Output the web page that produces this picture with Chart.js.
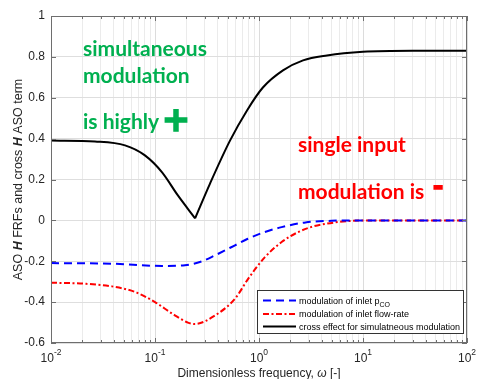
<!DOCTYPE html>
<html><head><meta charset="utf-8">
<script src="https://cdn.jsdelivr.net/npm/chart.js@4.4.1/dist/chart.umd.min.js"></script>
<style>html,body{margin:0;padding:0;background:#fff;}</style>
</head><body>
<canvas id="c" width="477" height="379"></canvas>
<script>
// ---- data ----
const blueOmega  = [0.01, 0.0386, 0.117, 0.194, 0.283, 0.378, 0.588, 0.78, 1.14, 1.65, 2.8, 5, 10, 100];
const blueValues = [-0.209, -0.212, -0.223, -0.22, -0.20, -0.171, -0.122, -0.09, -0.057, -0.033, -0.01, -0.002, 0, 0];

const redOmega  = [0.01, 0.0212, 0.0386, 0.064, 0.1, 0.146, 0.207, 0.24, 0.378, 0.588, 0.789, 1.14, 1.65, 2.39, 3.3, 4.5, 7, 15, 100];
const redValues = [-0.305, -0.31, -0.323, -0.35, -0.40, -0.456, -0.50, -0.507, -0.465, -0.383, -0.285, -0.18, -0.106, -0.057, -0.03, -0.016, -0.004, 0, 0];

const blackLeftOmega  = [0.01, 0.0265, 0.0515, 0.08, 0.117, 0.166, 0.243];
const blackLeftValues = [0.391, 0.386, 0.367, 0.318, 0.235, 0.122, 0.01];
const blackRightOmega  = [0.243, 0.338, 0.526, 0.767, 1.09, 1.70, 2.65, 4.5, 10, 30, 100];
const blackRightValues = [0.01, 0.18, 0.39, 0.538, 0.65, 0.734, 0.783, 0.807, 0.825, 0.83, 0.83];

const yTickValues = [-0.6, -0.4, -0.2, 0, 0.2, 0.4, 0.6, 0.8, 1];
const yTickLabels = ['-0.6', '-0.4', '-0.2', '0', '0.2', '0.4', '0.6', '0.8', '1'];
const xTickValues = [0.01, 0.1, 1, 10, 100];
const xTickExponents = ['-2', '-1', '0', '1', '2'];

const legendLabels = ['modulation of inlet p', 'modulation of inlet flow-rate', 'cross effect for simulatneous modulation'];
const legendSub = ['CO', '', ''];

// ---- helpers ----
const pts = (xs, ys) => xs.map((x, i) => ({x: x, y: ys[i]}));
const isPow10 = v => Math.abs(Math.log10(v) - Math.round(Math.log10(v))) < 1e-9;
const allXTicks = [];
for (let e = -2; e <= 1; e++) for (let m = 1; m <= 9; m++) allXTicks.push(m * Math.pow(10, e));
allXTicks.push(100);

const SANS = '"Liberation Sans", Arial, sans-serif';
const BLUE = '#0000FF', RED = '#FF0000', BLACK = '#000000';
const blueDash = [8, 5], redDash = [6, 2.5, 2, 2.5];
const AX = 12;

const decor = {
  id: 'decor',
  afterDraw(chart) {
    const ctx = chart.ctx, a = chart.chartArea;
    const xs = chart.scales.x, ys = chart.scales.y;
    ctx.save();
    // axes box
    ctx.strokeStyle = '#6e6e6e'; ctx.lineWidth = 1; ctx.setLineDash([]);
    ctx.strokeRect(a.left + 0.5, a.top + 0.5, a.right - a.left - 1, a.bottom - a.top - 1);
    // inward ticks
    ctx.beginPath();
    allXTicks.forEach(v => {
      const px = Math.round(xs.getPixelForValue(v)) + 0.5;
      const L = isPow10(v) ? 5 : 3;
      ctx.moveTo(px, a.bottom); ctx.lineTo(px, a.bottom - L);
      ctx.moveTo(px, a.top); ctx.lineTo(px, a.top + L);
    });
    yTickValues.forEach(v => {
      const py = Math.round(ys.getPixelForValue(v)) + 0.5;
      ctx.moveTo(a.left, py); ctx.lineTo(a.left + 5, py);
      ctx.moveTo(a.right, py); ctx.lineTo(a.right - 5, py);
    });
    ctx.stroke();

    // x tick labels 10^n
    ctx.fillStyle = '#262626';
    ctx.textBaseline = 'alphabetic';
    xTickValues.forEach((v, i) => {
      const px = xs.getPixelForValue(v);
      ctx.font = AX + 'px ' + SANS;
      const wb = ctx.measureText('10').width;
      ctx.font = '8.5px ' + SANS;
      const we = ctx.measureText(xTickExponents[i]).width;
      const x0 = px - (wb + we) / 2;
      ctx.font = AX + 'px ' + SANS; ctx.textAlign = 'left';
      ctx.fillText('10', x0, 362);
      ctx.font = '8.5px ' + SANS;
      ctx.fillText(xTickExponents[i], x0 + wb, 355);
    });

    // x title
    ctx.font = AX + 'px ' + SANS;
    const t1 = 'Dimensionless frequency, ', t2 = '\u03C9', t3 = ' [-]';
    const w1 = ctx.measureText(t1).width, w3 = ctx.measureText(t3).width;
    ctx.font = 'italic ' + AX + 'px ' + SANS;
    const w2 = ctx.measureText(t2).width;
    let xx = (a.left + a.right) / 2 - (w1 + w2 + w3) / 2;
    ctx.font = AX + 'px ' + SANS; ctx.fillText(t1, xx, 377); xx += w1;
    ctx.font = 'italic ' + AX + 'px ' + SANS; ctx.fillText(t2, xx, 377); xx += w2;
    ctx.font = AX + 'px ' + SANS; ctx.fillText(t3, xx, 377);

    // y title with bold italic H
    const YT = 12.5;
    const segs = [['ASO ', ''], ['H', 'bold italic '], [' FRFs and cross ', ''], ['H', 'bold italic '], [' ASO term', '']];
    let tw = 0;
    segs.forEach(s => { ctx.font = s[1] + YT + 'px ' + SANS; tw += ctx.measureText(s[0]).width; });
    ctx.translate(22, (a.top + a.bottom) / 2);
    ctx.rotate(-Math.PI / 2);
    let yy = -tw / 2;
    segs.forEach(s => { ctx.font = s[1] + YT + 'px ' + SANS; ctx.fillText(s[0], yy, 0); yy += ctx.measureText(s[0]).width; });
    ctx.setTransform(1, 0, 0, 1, 0, 0);

    // annotations
    ctx.textAlign = 'left';
    ctx.fillStyle = '#00B050'; ctx.strokeStyle = '#00B050';
    ctx.font = 'bold 21px Lato';
    ctx.fillText('simultaneous', 83, 56);
    ctx.fillText('modulation', 83, 83);
    ctx.fillText('is highly', 83, 129);
    ctx.font = 'bold 34px "DejaVu Sans"'; ctx.textAlign = 'center'; ctx.lineWidth = 1.5;
    ctx.fillText('+', 176, 131); ctx.strokeText('+', 176, 131);
    ctx.textAlign = 'left';
    ctx.fillStyle = RED; ctx.strokeStyle = RED;
    ctx.font = 'bold 21px Lato';
    ctx.fillText('single input', 298, 152);
    ctx.fillText('modulation is', 298, 199);
    ctx.font = 'bold 30px Lato'; ctx.textAlign = 'center';
    ctx.fillText('-', 438, 197); ctx.strokeText('-', 438, 197);

    // legend
    ctx.textAlign = 'left';
    const bx = 257.5, by = 290.5, bw = 206, bh = 43;
    ctx.fillStyle = '#fff'; ctx.fillRect(bx, by, bw, bh);
    ctx.strokeStyle = '#333'; ctx.lineWidth = 1; ctx.strokeRect(bx, by, bw, bh);
    const rows = [300.5, 314, 326.5];
    const styles = [[BLUE, blueDash], [RED, redDash], [BLACK, []]];
    rows.forEach((ry, i) => {
      ctx.strokeStyle = styles[i][0]; ctx.lineWidth = 2; ctx.setLineDash(styles[i][1]);
      ctx.beginPath(); ctx.moveTo(263, ry); ctx.lineTo(296, ry); ctx.stroke();
      ctx.setLineDash([]);
      ctx.fillStyle = '#000'; ctx.font = '9px ' + SANS;
      ctx.fillText(legendLabels[i], 299, ry + 3);
      if (legendSub[i]) {
        const w = ctx.measureText(legendLabels[i]).width;
        ctx.font = '7px ' + SANS;
        ctx.fillText(legendSub[i], 299 + w, ry + 6);
      }
    });
    ctx.restore();
  }
};

const lineDs = (label, data, color, dash) => ({
  label: label, data: data, borderColor: color, backgroundColor: color,
  borderWidth: 2, borderDash: dash, pointRadius: 0, fill: false,
  cubicInterpolationMode: 'monotone'
});

new Chart(document.getElementById('c'), {
  type: 'line',
  data: {
    datasets: [
      lineDs(legendLabels[0], pts(blueOmega, blueValues), BLUE, blueDash),
      lineDs(legendLabels[1], pts(redOmega, redValues), RED, redDash),
      lineDs(legendLabels[2], pts(blackLeftOmega, blackLeftValues), BLACK, []),
      lineDs(legendLabels[2] + ' (right)', pts(blackRightOmega, blackRightValues), BLACK, [])
    ]
  },
  options: {
    responsive: false, animation: false, devicePixelRatio: 1,
    layout: {padding: {left: 0, right: 10, top: 16, bottom: 0}},
    plugins: {legend: {display: false}, tooltip: {enabled: false}},
    scales: {
      x: {
        type: 'logarithmic', min: 0.01, max: 100,
        afterBuildTicks: s => { s.ticks = allXTicks.map(v => ({value: v})); },
        ticks: {display: false, autoSkip: false},
        grid: {color: c => (c.tick && isPow10(c.tick.value)) ? '#dcdcdc' : '#ebebeb', drawTicks: false, lineWidth: 1},
        border: {display: false},
        afterFit: s => { s.height = 36; }
      },
      y: {
        type: 'linear', min: -0.6, max: 1,
        afterBuildTicks: s => { s.ticks = yTickValues.map(v => ({value: v})); },
        ticks: {
          callback: v => { const i = yTickValues.findIndex(t => Math.abs(t - v) < 1e-9); return i >= 0 ? yTickLabels[i] : ''; },
          font: {family: SANS, size: AX}, color: '#262626', padding: 6, autoSkip: false
        },
        grid: {color: '#dedede', drawTicks: false},
        border: {display: false},
        afterFit: s => { s.width = 51; }
      }
    }
  },
  plugins: [decor]
});
</script>
</body></html>
